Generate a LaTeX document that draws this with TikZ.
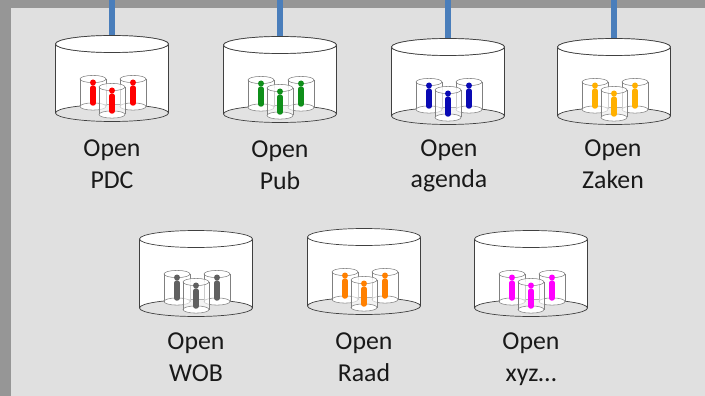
\documentclass[tikz,border=0pt]{standalone}
\usepackage{fontspec}
\setmainfont{Carlito}
\definecolor{bandgray}{HTML}{969696}
\definecolor{panelgray}{HTML}{E0E0E0}
\definecolor{floorgray}{HTML}{E2E2E2}
\definecolor{linkblue}{HTML}{4A7EBB}
\definecolor{openred}{HTML}{FF0000}
\definecolor{opengreen}{HTML}{0F8F1A}
\definecolor{openblue}{HTML}{0A0AB4}
\definecolor{openyellow}{HTML}{FFB000}
\definecolor{opengray}{HTML}{606060}
\definecolor{openorange}{HTML}{FF8000}
\definecolor{openpink}{HTML}{FF00FF}
\tikzset{
  dbline/.style={draw=black!75, line width=0.7pt},
  smallline/.style={draw=black!50, line width=0.55pt},
  dblabel/.style={align=center, font=\fontsize{25.8}{31.5}\selectfont, inner sep=0pt, text=black!90},
  linkline/.style={draw=linkblue, line width=6pt}
}
% kleine cilinder met figuur: #1 x, #2 y bovenkant, #3 kleur
\newcommand{\smallcyl}[3]{%
  \fill[white, opacity=0.6] (#1-13,#2) -- (#1-13,#2+27.5) arc[start angle=180, end angle=360, x radius=13, y radius=3.6] -- (#1+13,#2) -- cycle;
  \draw[smallline, fill=white] (#1,#2+27.5) ellipse[x radius=13, y radius=3.6];
  \draw[#3, line width=5.5pt, line cap=round] (#1,#2+9) -- (#1,#2+24);
  \draw[smallline, fill=white, fill opacity=0.85] (#1,#2) ellipse[x radius=13, y radius=3.6];
  \fill[#3] (#1,#2+3.5) circle[radius=3];
  \draw[smallline] (#1-13,#2) -- (#1-13,#2+27.5);
  \draw[smallline] (#1+13,#2) -- (#1+13,#2+27.5);
}
% grote cilinder: #1 naam, #2 x, #3 y bovenkant, #4 kleur
\newcommand{\opendb}[4]{%
  \coordinate (#1) at (#2,#3);
  \fill[white] (#2-56.5,#3) -- (#2-56.5,#3+69) arc[start angle=180, end angle=360, x radius=56.5, y radius=8.5] -- (#2+56.5,#3) -- cycle;
  \draw[dbline, fill=floorgray] (#2,#3+69) ellipse[x radius=56.5, y radius=8.5];
  \smallcyl{#2-19}{#3+35}{#4}
  \smallcyl{#2+21}{#3+35}{#4}
  \smallcyl{#2}{#3+43}{#4}
  \draw[dbline] (#2-56.5,#3) -- (#2-56.5,#3+69);
  \draw[dbline] (#2+56.5,#3) -- (#2+56.5,#3+69);
  \draw[dbline, fill=white] (#2,#3) ellipse[x radius=56.5, y radius=8.5];
}
\begin{document}
\begin{tikzpicture}[x=1pt, y=-1pt]
  \useasboundingbox (0,0) rectangle (705,396);
  %achtergrond
  \fill[bandgray] (0,0) rectangle (705,396);
  \fill[panelgray] (11,8) rectangle (705,396);
  %bovenste rij
  \coordinate (linkPDC) at (112,0);
  \coordinate (linkPub) at (280,0);
  \coordinate (linkAgenda) at (448,0);
  \coordinate (linkZaken) at (614,0);
  \opendb{dbPDC}{112}{44}{openred}
  \opendb{dbPub}{280}{45}{opengreen}
  \opendb{dbAgenda}{448}{47}{openblue}
  \opendb{dbZaken}{614}{47}{openyellow}
  %onderste rij
  \opendb{dbWOB}{196}{239}{opengray}
  \opendb{dbRaad}{364}{237}{openorange}
  \opendb{dbXyz}{531}{239}{openpink}
  %lijnen naar boven
  \draw[linkline] (linkPDC) -- (dbPDC);
  \draw[linkline] (linkPub) -- (dbPub);
  \draw[linkline] (linkAgenda) -- (dbAgenda);
  \draw[linkline] (linkZaken) -- (dbZaken);
  %bovenkant opnieuw, over de lijnen
  \draw[dbline, fill=white] (112,44) ellipse[x radius=56.5, y radius=8.5];
  \draw[dbline, fill=white] (280,45) ellipse[x radius=56.5, y radius=8.5];
  \draw[dbline, fill=white] (448,47) ellipse[x radius=56.5, y radius=8.5];
  \draw[dbline, fill=white] (614,47) ellipse[x radius=56.5, y radius=8.5];
  %teksten
  \node[dblabel] (lblPDC) at (112,164) {Open\\PDC};
  \node[dblabel] (lblPub) at (280,165) {Open\\Pub};
  \node[dblabel] (lblAgenda) at (449,166) {Open\\agenda};
  \node[dblabel] (lblZaken) at (613,164) {Open\\Zaken};
  \node[dblabel] (lblWOB) at (196,357) {Open\\WOB};
  \node[dblabel] (lblRaad) at (364,357) {Open\\Raad};
  \node[dblabel] (lblXyz) at (531,359) {Open\\xyz…};
\end{tikzpicture}
\end{document}
